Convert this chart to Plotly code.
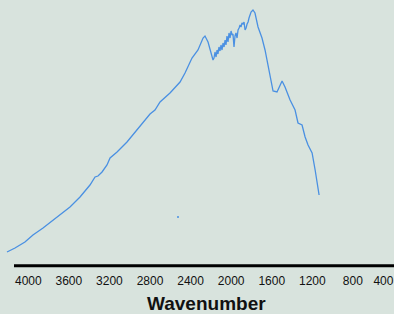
import plotly.graph_objects as go

# Spectrum trace (wavenumber, signal in arbitrary units)
wavenumber = [4210, 4131, 4033, 3954, 3855, 3756, 3687, 3589, 3490, 3392, 3342, 3313,
              3273, 3224, 3194, 3125, 3027, 2918, 2800, 2751, 2701, 2603, 2504, 2455,
              2386, 2327, 2277, 2258, 2228, 2179,
              2169, 2159, 2149, 2139, 2130, 2120, 2110, 2100, 2090, 2080, 2070, 2060,
              2051, 2041, 2031, 2021, 2011, 2001, 1991, 1982, 1972, 1962, 1952, 1942,
              1932, 1922, 1912, 1903, 1893, 1883, 1873, 1863, 1853, 1843, 1833, 1824,
              1814, 1804, 1785, 1765,
              1735, 1696, 1666, 1636, 1617, 1587, 1548, 1498, 1469, 1439, 1419, 1370,
              1341, 1301, 1271, 1242, 1202, 1172, 1143, 1133]
signal = [13, 17, 23, 30, 37, 45, 50, 58, 68, 80, 88, 89,
          93, 100, 107, 113, 123, 137, 151, 155, 163, 172, 183, 192,
          207, 215, 227, 229, 223, 205,
          207, 213, 208, 215, 211, 218, 214, 220, 215, 222, 218, 225,
          220, 229, 223, 232, 227, 234, 230, 231, 218, 229, 232, 227,
          235, 237, 240, 238, 242, 241, 243, 235, 237, 241, 243, 247,
          250, 253, 255, 252,
          238, 227, 215, 198, 187, 174, 173, 184, 178, 169, 165, 155,
          142, 140, 128, 120, 112, 95, 77, 70]

# Isolated stray sample
stray_wn = [2524]
stray_signal = [48]

tick_vals = [4000, 3600, 3200, 2800, 2400, 2000, 1600, 1200, 800, 400]
tick_text = ["4000", "3600", "3200", "2800", "2400", "2000", "1600", "1200",
             "800", "400&nbsp;&nbsp;&nbsp;&nbsp;&nbsp;&nbsp;"]

fig = go.Figure()
fig.add_trace(go.Scatter(x=wavenumber, y=signal, mode="lines",
                         line=dict(color="#4a90e2", width=1.3), showlegend=False))
fig.add_trace(go.Scatter(x=stray_wn, y=stray_signal, mode="markers",
                         marker=dict(color="#4a90e2", size=2), showlegend=False))

fig.update_layout(
    width=394, height=314,
    margin=dict(l=0, r=0, t=0, b=49, autoexpand=False),
    paper_bgcolor="#d8e3dd", plot_bgcolor="#d8e3dd",
    xaxis=dict(range=[4279, 394.5], tickvals=tick_vals, ticktext=tick_text,
               showgrid=False, zeroline=False, showline=False, ticks="",
               ticklabelstandoff=7, ticklabeloverflow="allow", automargin=False,
               tickfont=dict(family="Liberation Sans, Arial", size=12, color="#111")),
    yaxis=dict(range=[0, 265], visible=False, showgrid=False),
    shapes=[dict(type="line", xref="paper", yref="paper", x0=14/394, x1=1, y0=-0.003, y1=-0.003,
                 line=dict(color="black", width=3))],
    annotations=[dict(text="<b>Wavenumber</b>", xref="paper", yref="paper",
                      x=206/394, y=(265-303)/265, xanchor="center", yanchor="middle",
                      showarrow=False,
                      font=dict(family="Liberation Sans, Arial", size=19, color="#111"))],
)

fig.write_html("out.html", config={"displayModeBar": False},
               post_script="document.body.style.margin='0';document.body.style.overflow='hidden';")
